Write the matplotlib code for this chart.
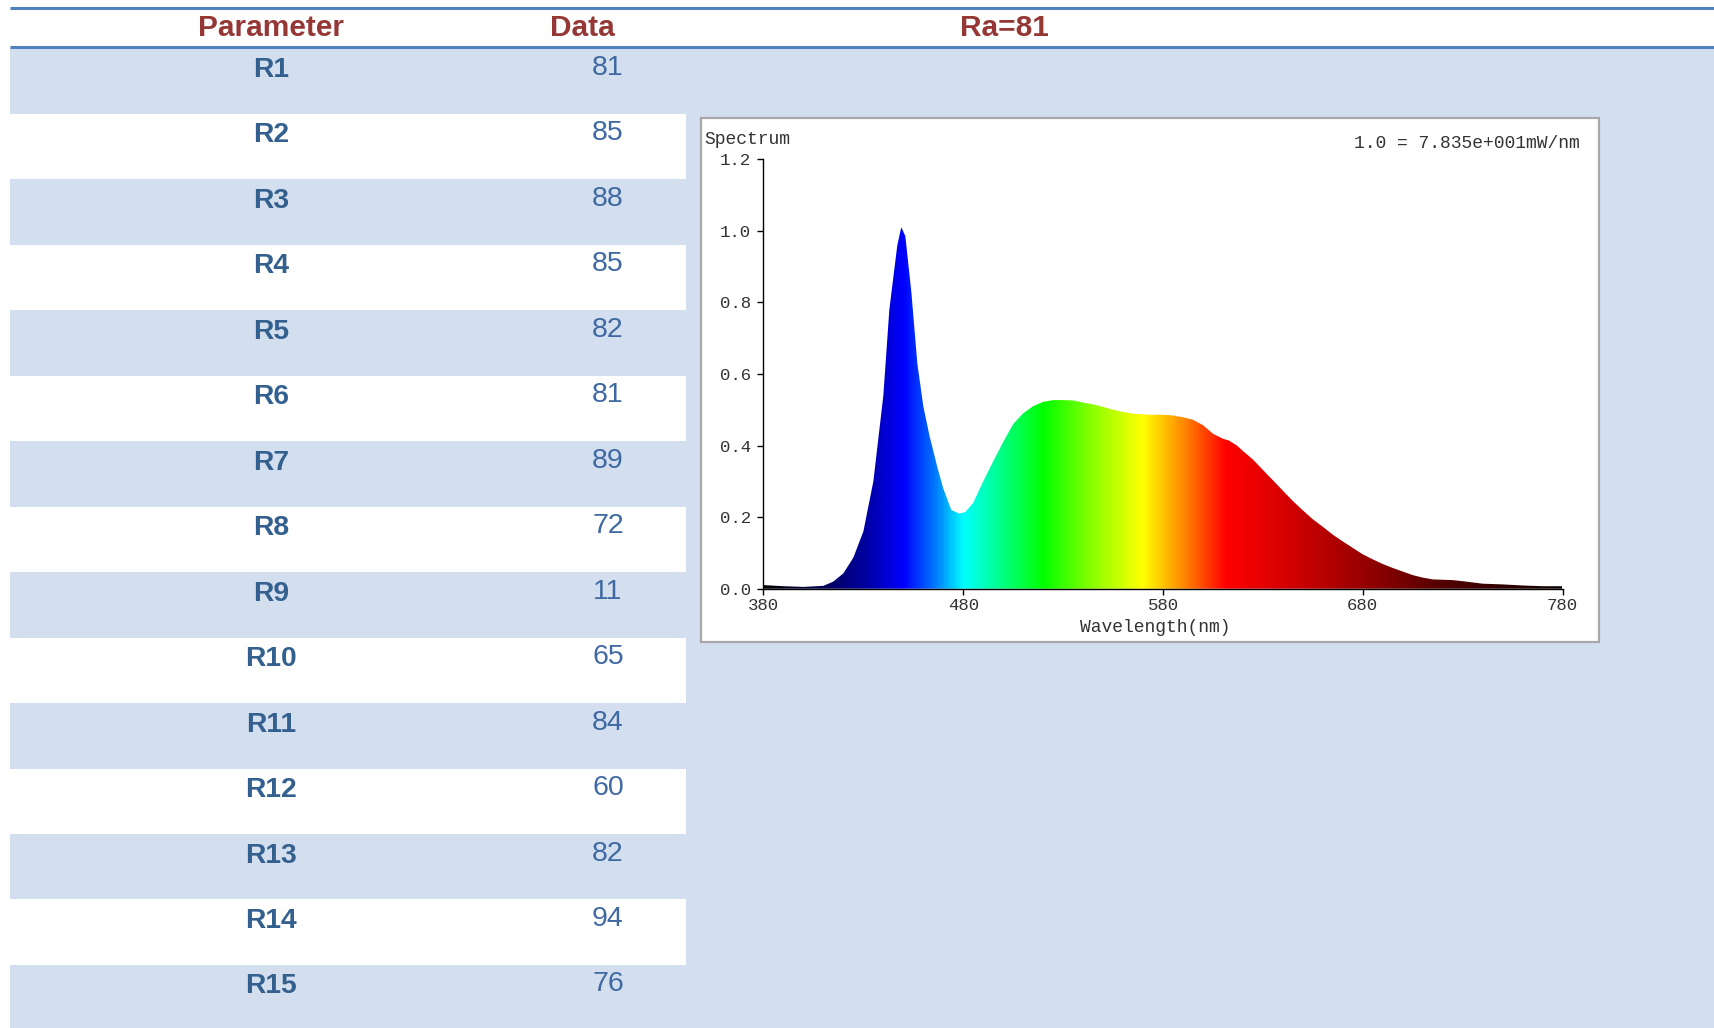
import numpy as np
import matplotlib
matplotlib.use('Agg')
import matplotlib.pyplot as plt
from matplotlib.patches import Rectangle, Polygon
from matplotlib.colors import LinearSegmentedColormap

# ---------------- data ----------------
headers = ['Parameter', 'Data', 'Ra=81']
params = ['R1', 'R2', 'R3', 'R4', 'R5', 'R6', 'R7', 'R8', 'R9', 'R10',
          'R11', 'R12', 'R13', 'R14', 'R15']
values = [81, 85, 88, 85, 82, 81, 89, 72, 11, 65, 84, 60, 82, 94, 76]

wavelength = [380, 390, 400, 410, 415, 420, 425, 430, 435, 440, 443, 447, 449,
              451, 454, 457, 460, 463, 467, 470, 474, 478, 481, 485, 490, 495,
              500, 505, 510, 515, 520, 525, 530, 535, 540, 545, 550, 555, 560,
              565, 570, 575, 580, 585, 590, 595, 600, 605, 610, 613, 617, 620,
              625, 630, 635, 640, 645, 650, 655, 660, 665, 670, 675, 680, 685,
              690, 695, 700, 705, 710, 715, 720, 725, 730, 740, 750, 760, 770, 780]
intensity = [0.010, 0.007, 0.005, 0.008, 0.020, 0.043, 0.087, 0.160, 0.300,
             0.540, 0.780, 0.960, 1.010, 0.985, 0.830, 0.630, 0.510, 0.430,
             0.340, 0.280, 0.220, 0.210, 0.214, 0.240, 0.300, 0.356, 0.410,
             0.460, 0.490, 0.510, 0.522, 0.527, 0.527, 0.526, 0.520, 0.515,
             0.508, 0.500, 0.494, 0.489, 0.487, 0.486, 0.486, 0.484, 0.479,
             0.472, 0.457, 0.433, 0.419, 0.414, 0.400, 0.385, 0.361, 0.332,
             0.303, 0.274, 0.245, 0.219, 0.194, 0.173, 0.151, 0.132, 0.114,
             0.096, 0.082, 0.069, 0.058, 0.048, 0.038, 0.031, 0.026, 0.025,
             0.024, 0.021, 0.014, 0.012, 0.009, 0.007, 0.007]

xticks = [380, 480, 580, 680, 780]
yticks = [0.0, 0.2, 0.4, 0.6, 0.8, 1.0, 1.2]

# spectral colour stops (wavelength, rgb)
color_stops = [(380, (0.0, 0.0, 0.0)), (410, (0.0, 0.0, 0.35)),
               (430, (0.0, 0.0, 0.62)), (450, (0.0, 0.0, 1.0)),
               (465, (0.0, 0.45, 1.0)), (480, (0.0, 1.0, 1.0)),
               (500, (0.0, 1.0, 0.5)), (520, (0.0, 1.0, 0.0)),
               (545, (0.55, 1.0, 0.0)), (570, (1.0, 1.0, 0.0)),
               (590, (1.0, 0.55, 0.0)), (612, (1.0, 0.0, 0.0)),
               (640, (0.85, 0.0, 0.0)), (680, (0.6, 0.0, 0.0)),
               (720, (0.33, 0.0, 0.0)), (780, (0.05, 0.0, 0.0))]

# ---------------- figure ----------------
W, H = 1715, 1028
fig = plt.figure(figsize=(W / 100, H / 100), dpi=100)
bg = fig.add_axes([0, 0, 1, 1])
bg.set_xlim(0, W)
bg.set_ylim(H, 0)
bg.axis('off')

band = '#D3DFEE'
line_c = '#4F81BD'
head_c = '#953735'
label_c = '#34608F'
value_c = '#3F69A2'
sans = 'Liberation Sans'
mono = 'Liberation Mono'

bg.add_patch(Rectangle((10, 48), W - 10, H - 48, facecolor=band, lw=0))

row_top0 = 48.5
row_h = 65.46
for i, (p, v) in enumerate(zip(params, values)):
    top = row_top0 + i * row_h
    if i % 2 == 1:
        bg.add_patch(Rectangle((10, top), 676, row_h, facecolor='white', lw=0))
    bg.text(271, top + 21.5, p, ha='center', va='center', family=sans,
            fontsize=20.3, fontweight='bold', color=label_c)
    bg.text(608, top + 19.5, str(v), ha='center', va='center', family=sans,
            fontsize=20.5, color=value_c)

bg.plot([10, W], [7.5, 7.5], color=line_c, lw=2.2, solid_capstyle='butt')
bg.plot([10, W], [46.5, 46.5], color=line_c, lw=2.2, solid_capstyle='butt')
for x, t in zip([271, 582, 1004], headers):
    bg.text(x, 28.5, t, ha='center', va='center', family=sans, fontsize=21.5,
            fontweight='bold', color=head_c)

# chart box
bg.add_patch(Rectangle((701.5, 117.6), 897.5, 524.4, facecolor='white',
                       edgecolor='#A8A8A8', lw=1.6))
bg.text(704, 139, 'Spectrum', ha='left', va='center', family=mono,
        fontsize=13, color='#333333')
bg.text(1580, 144, '1.0 = 7.835e+001mW/nm', ha='right', va='center',
        family=mono, fontsize=13, color='#333333')
bg.text(1155, 627, 'Wavelength(nm)', ha='center', va='center', family=mono,
        fontsize=13, color='#333333')

# spectrum axes
x0, x1 = 763.5, 1562.5
y0, y1 = 588.7, 159.2
ax = fig.add_axes([x0 / W, (H - y0) / H, (x1 - x0) / W, (y0 - y1) / H])
ax.patch.set_visible(False)

lo, hi = xticks[0], xticks[-1]
cmap = LinearSegmentedColormap.from_list(
    'spec', [((w - lo) / (hi - lo), c) for w, c in color_stops])
grid = np.linspace(lo, hi, 1600)[None, :]
img = ax.imshow(grid, extent=[lo, hi, 0, yticks[-1]], aspect='auto',
                cmap=cmap, vmin=lo, vmax=hi, origin='lower',
                interpolation='bilinear', zorder=1)
verts = [(wavelength[0], 0)] + list(zip(wavelength, intensity)) + [(wavelength[-1], 0)]
poly = Polygon(verts, closed=True, facecolor='none', edgecolor='none',
               transform=ax.transData)
ax.add_patch(poly)
img.set_clip_path(poly)

ax.set_xlim(lo, hi)
ax.set_ylim(yticks[0], yticks[-1])
ax.set_xticks(xticks)
ax.set_yticks(yticks)
ax.set_yticklabels([f'{t:.1f}' for t in yticks])
for s in ['top', 'right']:
    ax.spines[s].set_visible(False)
for s in ['left', 'bottom']:
    ax.spines[s].set_color('black')
    ax.spines[s].set_linewidth(1.0)
    ax.spines[s].set_zorder(3)
ax.tick_params(direction='out', length=4, width=1, color='black',
               labelsize=12.5, labelcolor='#333333')
ax.tick_params(axis='x', pad=2.5)
ax.tick_params(axis='y', pad=5)
for lab in ax.get_xticklabels() + ax.get_yticklabels():
    lab.set_family(mono)

fig.savefig('out.png', dpi=100)
